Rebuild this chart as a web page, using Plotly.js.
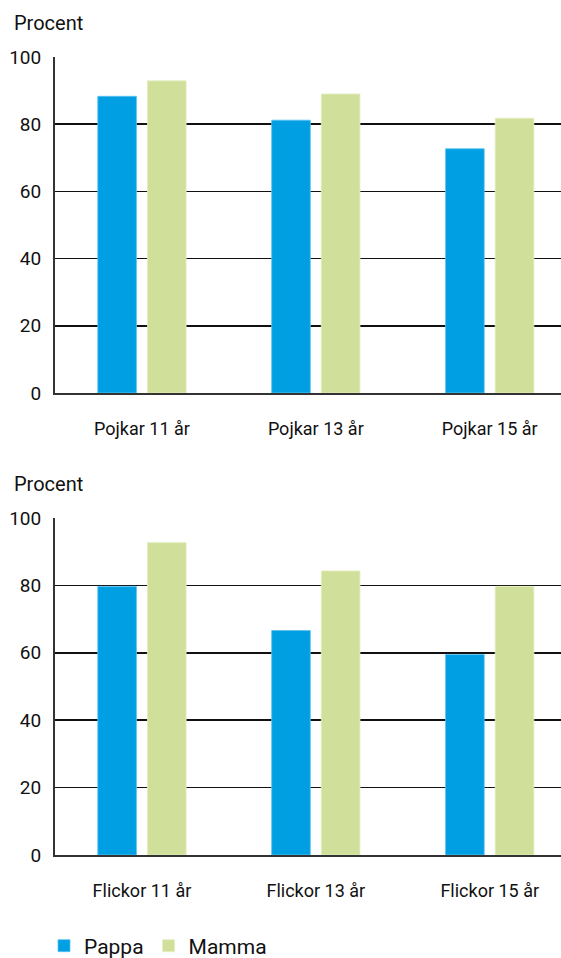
<!DOCTYPE html>
<html>
<head>
<meta charset="utf-8">
<script src="https://cdn.plot.ly/plotly-3.0.1.min.js"></script>
<style>html,body{margin:0;padding:0;background:#fff;}#chart{width:561px;height:958px;}</style>
</head>
<body>
<div id="chart"></div>
<script>
const boysCategories = ["Pojkar 11 år", "Pojkar 13 år", "Pojkar 15 år"];
const girlsCategories = ["Flickor 11 år", "Flickor 13 år", "Flickor 15 år"];
const boysPappa = [88.3, 81.2, 72.7];
const boysMamma = [92.9, 89.0, 81.8];
const girlsPappa = [79.7, 66.6, 59.5];
const girlsMamma = [92.7, 84.3, 79.7];
const seriesNames = ["Pappa", "Mamma"];
const yTicks = [0, 20, 40, 60, 80, 100];
const yAxisLabel = "Procent";

const blue = "#009fe3";
const green = "#d0e09b";
const font = "Roboto, 'Noto Sans', sans-serif";
const W = 561, H = 958;

function bar(x, y, name, color, xa, ya, show) {
  return {
    type: "bar", x: x, y: y, name: name, xaxis: xa, yaxis: ya,
    showlegend: show, legendgroup: name,
    marker: {color: color, line: {color: color === blue ? "#5cc4ef" : "#e4edc4", width: 0.8}},
    hoverinfo: "x+y"
  };
}

const data = [
  bar(boysCategories, boysPappa, seriesNames[0], blue, "x", "y", true),
  bar(boysCategories, boysMamma, seriesNames[1], green, "x", "y", true),
  bar(girlsCategories, girlsPappa, seriesNames[0], blue, "x2", "y2", false),
  bar(girlsCategories, girlsMamma, seriesNames[1], green, "x2", "y2", false)
];

function yax(domain, anchor) {
  return {
    domain: domain, anchor: anchor, range: [0, 100], tickvals: yTicks,
    showgrid: true, gridcolor: "#111", gridwidth: 1.5,
    showline: true, linecolor: "#333", linewidth: 2,
    zeroline: false, ticks: "", ticklabelstandoff: 8,
    tickfont: {family: font, size: 19, color: "#111"}, fixedrange: true
  };
}
function xax(anchor) {
  return {
    domain: [55 / W, 1], anchor: anchor, range: [-0.5, 2.41],
    showline: true, linecolor: "#333", linewidth: 2,
    showgrid: false, ticks: "", ticklabelstandoff: 18,
    tickfont: {family: font, size: 18, color: "#111"}, fixedrange: true
  };
}

const layout = {
  width: W, height: H,
  margin: {l: 0, r: 0, t: 0, b: 0, autoexpand: false},
  paper_bgcolor: "#fff", plot_bgcolor: "#fff",
  barmode: "group", bargap: 0.429, bargroupgap: 0.221,
  font: {family: font, color: "#111"},
  xaxis: xax("y"),
  yaxis: yax([1 - 393 / H, 1 - 57 / H], "x"),
  xaxis2: xax("y2"),
  yaxis2: yax([1 - 855 / H, 1 - 518 / H], "x2"),
  showlegend: true,
  legend: {
    orientation: "h", x: 44 / W, xanchor: "left", y: 1 - 946 / H, yanchor: "middle",
    font: {family: font, size: 21, color: "#111"}, bgcolor: "rgba(0,0,0,0)",
    traceorder: "normal", itemclick: false, itemdoubleclick: false
  },
  annotations: [
    {text: yAxisLabel, xref: "paper", yref: "paper", x: 12 / W, y: 1 - 23 / H,
     xanchor: "left", yanchor: "middle", showarrow: false,
     font: {family: font, size: 20, color: "#111"}},
    {text: yAxisLabel, xref: "paper", yref: "paper", x: 12 / W, y: 1 - 484 / H,
     xanchor: "left", yanchor: "middle", showarrow: false,
     font: {family: font, size: 20, color: "#111"}}
  ]
};

Plotly.newPlot("chart", data, layout, {displayModeBar: false, staticPlot: true});
</script>
</body>
</html>
